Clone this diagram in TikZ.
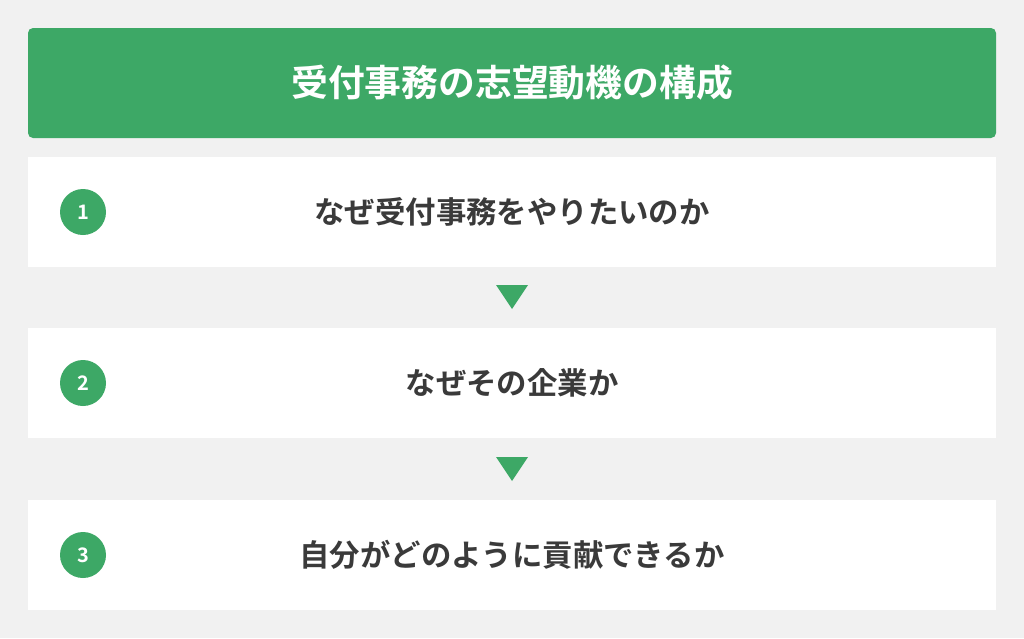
\documentclass[tikz,border=0pt]{standalone}
\usepackage{fontspec}
\setmainfont{Noto Sans CJK JP}[BoldFont={* Bold}]
\definecolor{bg}{HTML}{F1F1F1}
\definecolor{grn}{HTML}{3DA866}
\definecolor{txt}{HTML}{3A3A3A}
\begin{document}
\begin{tikzpicture}[x=1pt,y=-1pt,
  header/.style={fill=grn,rounded corners=5pt},
  rowbox/.style={fill=white},
  numc/.style={circle,fill=grn,minimum size=46pt,inner sep=0pt,text=white,font=\fontsize{20}{20}\selectfont\bfseries},
  rowtext/.style={text=txt,font=\fontsize{30.4}{32}\selectfont\bfseries},
  tri/.style={fill=grn}]
\fill[bg] (0,0) rectangle (1024,638);
\useasboundingbox (0,0) rectangle (1024,638);
\fill[header] (28,28) rectangle (996,138);
\node[text=white,font=\fontsize{36.8}{40}\selectfont\bfseries] (title) at (512,83) {受付事務の志望動機の構成};
\fill[rowbox] (28,157) rectangle (996,267);
\fill[rowbox] (28,328) rectangle (996,438);
\fill[rowbox] (28,500) rectangle (996,610);
\node[numc] (n1) at (83,212) {1};
\node[numc] (n2) at (83,383) {2};
\node[numc] (n3) at (83,555) {3};
\node[rowtext] (t1) at (512,212) {なぜ受付事務をやりたいのか};
\node[rowtext] (t2) at (512,383) {なぜその企業か};
\node[rowtext] (t3) at (512,555) {自分がどのように貢献できるか};
\fill[tri] (496,285) -- (528,285) -- (512,309) -- cycle;
\fill[tri] (496,457) -- (528,457) -- (512,481) -- cycle;
\end{tikzpicture}
\end{document}
